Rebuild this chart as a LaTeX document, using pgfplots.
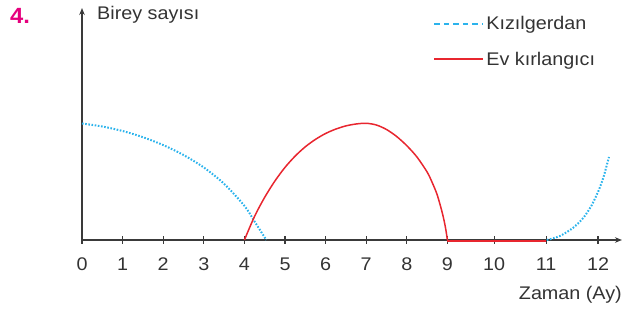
\documentclass[border=0pt]{standalone}
\usepackage{pgfplots}
\pgfplotsset{compat=1.18}
\usepackage{fontspec}
\setmainfont{Liberation Sans}[FakeStretch=1.08]
\usetikzlibrary{arrows.meta}
\definecolor{txt}{HTML}{333333}
\definecolor{axc}{HTML}{3A3A3A}
\definecolor{blu}{HTML}{2BB3EC}
\definecolor{redc}{HTML}{E8262F}
\definecolor{mag}{HTML}{E5007D}
\newcommand{\fs}{\fontsize{18.3}{20}\selectfont}
\begin{document}
\begin{tikzpicture}[x=1pt,y=1pt]
\path[use as bounding box] (0,0) rectangle (630,312);
\begin{axis}[
  at={(82pt,72pt)}, anchor=origin,
  x=40.6pt, y=1pt,
  xmin=0, xmax=13.3, ymin=0, ymax=232,
  axis x line=bottom, axis y line=left,
  axis line style={draw=axc, line width=1.3pt, -{Stealth[length=7pt,width=5.5pt]}},
  ytick=\empty,
  xtick={0,1,2,3,4,5,6,7,8,9,10.15,11.43,12.71},
  xticklabels={0,1,2,3,4,5,6,7,8,9,10,11,12},
  tick align=center,
  major tick length=8pt,
  x tick style={draw=axc, line width=1.1pt},
  xticklabel style={font=\fs, text=txt, anchor=base, yshift=-27pt},
  clip=false,
  legend style={draw=none, fill=none, at={(axis cs:8.65,226)}, anchor=north west,
    font=\fs, text=txt, row sep=17pt, inner sep=0pt},
  legend cell align=left,
]
\addplot[blu, line width=2pt, dash pattern=on 1.6pt off 1.6pt, smooth,
  legend image code/.code={\draw[draw=blu, line width=2pt, dash pattern=on 5.5pt off 4pt] (0pt,0pt) -- (49pt,0pt);}]
  coordinates {(0,116.5) (0.5,113.5) (1.0,109) (1.5,102.8) (2.0,94.9) (2.5,85) (3.0,72.5) (3.5,56.2) (4.0,34.2) (4.25,18.5) (4.54,0)};
\addlegendentry{Kızılgerdan}
\addplot[redc, line width=1.5pt, smooth,
  legend image code/.code={\draw[draw=redc, line width=1.9pt, solid] (0pt,0.5pt) -- (49pt,0.5pt);}]
  coordinates {(4,0) (4.25,23.6) (4.5,42.7) (4.75,58.9) (5.0,72.6) (5.25,83.9) (5.5,93.2) (5.75,100.6) (6.0,106.5) (6.25,110.9) (6.5,114.1) (6.75,116.0) (7.0,116.7) (7.25,115) (7.5,110.5) (7.75,103.5) (8.0,94.3) (8.25,83) (8.5,68) (8.625,57.5) (8.75,45) (8.875,27) (8.95,13) (9,0)};
\addlegendentry{Ev kırlangıcı}
\addplot[redc, line width=1.5pt, forget plot] coordinates {(9,-0.8) (11.43,-0.8)};
\addplot[blu, line width=2pt, dash pattern=on 1.6pt off 1.6pt, smooth, forget plot]
  coordinates {(11.45,0) (11.77,4) (12.1,12.3) (12.35,22.3) (12.55,34.5) (12.72,49) (12.84,62.3) (12.92,74) (12.98,83)};
\end{axis}
\node[anchor=north west, inner sep=0pt, text=mag, font=\fontsize{22}{24}\selectfont\bfseries] at (10,304) {4.};
\node[anchor=base west, inner sep=0pt, text=txt, font=\fs] at (97,292) {Birey sayısı};
\node[anchor=base east, inner sep=0pt, text=txt, font=\fs] at (622,12) {Zaman (Ay)};
\end{tikzpicture}
\end{document}
